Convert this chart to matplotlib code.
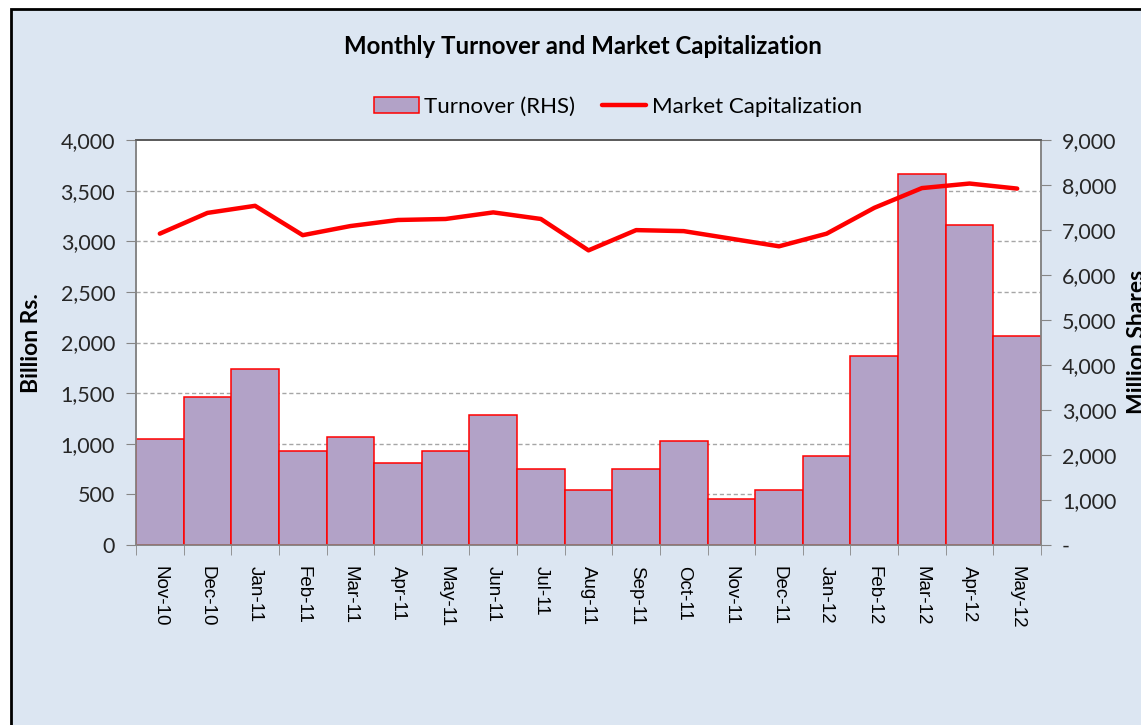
import matplotlib
matplotlib.use("Agg")
from matplotlib import pyplot as plt
from matplotlib.patches import Rectangle, Patch
from matplotlib.lines import Line2D
from matplotlib.ticker import FuncFormatter, FixedLocator

months = ["Nov-10", "Dec-10", "Jan-11", "Feb-11", "Mar-11", "Apr-11", "May-11",
          "Jun-11", "Jul-11", "Aug-11", "Sep-11", "Oct-11", "Nov-11", "Dec-11",
          "Jan-12", "Feb-12", "Mar-12", "Apr-12", "May-12"]

# million shares (right axis)
turnover = [2350, 3300, 3915, 2100, 2405, 1820, 2100, 2880, 1685, 1225,
            1685, 2320, 1030, 1225, 1980, 4205, 8240, 7120, 4650]

# billion Rs. (left axis)
market_cap = [3075, 3280, 3350, 3060, 3150, 3210, 3220, 3285, 3220, 2910,
              3110, 3100, 3025, 2950, 3075, 3330, 3525, 3570, 3520]

left_ticks = [0, 500, 1000, 1500, 2000, 2500, 3000, 3500, 4000]
right_ticks = [0, 1000, 2000, 3000, 4000, 5000, 6000, 7000, 8000, 9000]
LHS_MAX = 4000
RHS_MAX = 9000

BG = "#dce6f2"
BAR = "#b2a2c7"
AXC = "#868686"
FONT = "Lato"

fig = plt.figure(figsize=(11.41, 7.25), dpi=100, facecolor="white")
fig.patches.append(Rectangle((11 / 1141, -0.1), 1.2, 1.1 - 9 / 725,
                             transform=fig.transFigure, facecolor=BG,
                             edgecolor="black", linewidth=2.0, zorder=-5))

ax = fig.add_axes([136 / 1141, 1 - 545 / 725, 905 / 1141, 405 / 725])
ax2 = ax.twinx()
ax2.set_zorder(1)
ax.set_zorder(2)
ax.patch.set_visible(False)
ax2.patch.set_visible(True)
ax2.patch.set_facecolor("white")

x = range(len(months))

# bars on the right axis
ax2.bar(x, turnover, width=1.0, color=BAR, edgecolor="red", linewidth=1.1, zorder=3)
for v in left_ticks[1:-1]:
    ax2.axhline(v * RHS_MAX / LHS_MAX, color="#a6a6a6", linestyle=(0, (3, 2)),
                linewidth=1.0, zorder=1)
ax2.set_ylim(0, RHS_MAX)
ax2.yaxis.set_major_locator(FixedLocator(right_ticks))
ax2.yaxis.set_major_formatter(FuncFormatter(lambda v, p: "-" if v == 0 else f"{v:,.0f}"))

# line on the left axis
ax.plot(x, market_cap, color="red", linewidth=3.2, solid_capstyle="round",
        solid_joinstyle="round", zorder=5)
ax.set_ylim(0, LHS_MAX)
ax.yaxis.set_major_locator(FixedLocator(left_ticks))
ax.yaxis.set_major_formatter(FuncFormatter(lambda v, p: f"{v:,.0f}"))

ax.set_xlim(-0.5, len(months) - 0.5)
ax.set_xticks(list(x))
ax.set_xticklabels(months, rotation=270, family="Liberation Sans", fontsize=13.5,
                   va="top", ha="center")
ax.set_xticks([i - 0.5 for i in range(len(months) + 1)], minor=True)
ax.tick_params(axis="x", which="major", length=0, pad=15)
ax.tick_params(axis="x", which="minor", length=7, color=AXC, direction="out")

for a in (ax, ax2):
    for s in a.spines.values():
        s.set_color(AXC)
        s.set_linewidth(1.2)
    a.spines["top"].set_color("#595959")
ax.tick_params(axis="y", length=7, color=AXC, direction="out", pad=8,
               labelsize=15.5, labelcolor="#262626")
ax2.tick_params(axis="y", length=7, color=AXC, direction="out", pad=8,
                labelsize=15.5, labelcolor="#262626")
for lbl in ax.get_yticklabels() + ax2.get_yticklabels():
    lbl.set_family(FONT)

fig.text(32 / 1141, 1 - 343 / 725, "Billion Rs.", rotation=90, ha="center",
         va="center", family=FONT, fontweight="bold", fontsize=16.5)
fig.text(1137 / 1141, 1 - 342 / 725, "Million Shares", rotation=90, ha="center",
         va="center", family=FONT, fontweight="bold", fontsize=16.5)

fig.text(583 / 1141, 1 - 47 / 725, "Monthly Turnover and Market Capitalization",
         ha="center", va="center", family=FONT, fontweight="bold", fontsize=17.3)

handles = [Patch(facecolor=BAR, edgecolor="red", linewidth=1.1),
           Line2D([], [], color="red", linewidth=3.2, solid_capstyle="round")]
fig.legend(handles, ["Turnover (RHS)", "Market Capitalization"], loc="center",
           bbox_to_anchor=(618 / 1141, 1 - 107 / 725), ncol=2, frameon=False,
           handlelength=2.0, handletextpad=0.25, columnspacing=1.2,
           prop={"family": FONT, "size": 16})

fig.savefig("out.png", dpi=100, facecolor=fig.get_facecolor())
